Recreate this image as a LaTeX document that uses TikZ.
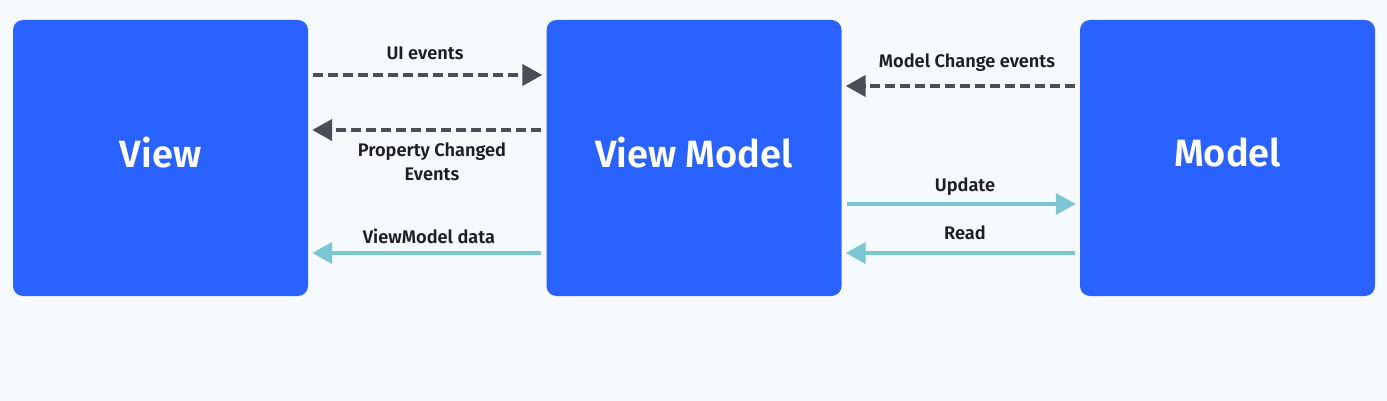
\documentclass[tikz,border=0pt]{standalone}
\usepackage{fontspec}
\setmainfont{Fira Sans}[BoldFont={Fira Sans SemiBold}]
\usetikzlibrary{arrows.meta}
\definecolor{bgcol}{HTML}{F7FAFC}
\definecolor{boxblue}{HTML}{2962FF}
\definecolor{darkarr}{HTML}{4A4E57}
\definecolor{tealarr}{HTML}{7CC6D4}
\definecolor{labtext}{HTML}{1E1E22}
\tikzset{
	box/.style={fill=boxblue, rounded corners=10pt, minimum width=295pt, minimum height=276pt, inner sep=0pt, text=white, font=\fontsize{38}{40}\selectfont\bfseries},
	darr/.style={draw=darkarr, line width=4pt, dash pattern=on 10pt off 5pt, -{Triangle[length=20pt,width=21pt]}, shorten <=5pt, shorten >=4pt},
	tarr/.style={draw=tealarr, line width=4pt, -{Triangle[length=20pt,width=21pt]}, shorten <=5pt, shorten >=4pt},
	lab/.style={text=labtext, font=\fontsize{18.2}{23.5}\selectfont\bfseries, align=center, inner sep=0pt}
}
\begin{document}
\begin{tikzpicture}[x=1pt, y=-1pt]
		\useasboundingbox[fill=bgcol] (0,0) rectangle (1387,401);
		\node[box] (view) at (160.5,158) {\raisebox{12pt}{View}};
		\node[box] (vm) at (694,158) {\raisebox{12pt}{View Model}};
		\node[box] (model) at (1227.5,158) {\raisebox{12pt}{Model}};
		% View <-> View Model
		\draw[darr] (view.east |- 0,75) -- (vm.west |- 0,75);
		\node[lab] (ui) at (425,53) {UI events};
		\draw[darr] (vm.west |- 0,130) -- (view.east |- 0,130);
		\node[lab] (pc) at (432,162) {Property Changed\\Events};
		\draw[tarr] (vm.west |- 0,253) -- (view.east |- 0,253);
		\node[lab] (vmd) at (429,236) {ViewModel data};
		% View Model <-> Model
		\draw[darr] (model.west |- 0,86) -- (vm.east |- 0,86);
		\node[lab] (mc) at (967,63) {Model Change events};
		\draw[tarr] (vm.east |- 0,204) -- (model.west |- 0,204);
		\node[lab] (up) at (965,187) {Update};
		\draw[tarr] (model.west |- 0,253) -- (vm.east |- 0,253);
		\node[lab] (rd) at (965,233) {Read};
	\end{tikzpicture}
\end{document}
